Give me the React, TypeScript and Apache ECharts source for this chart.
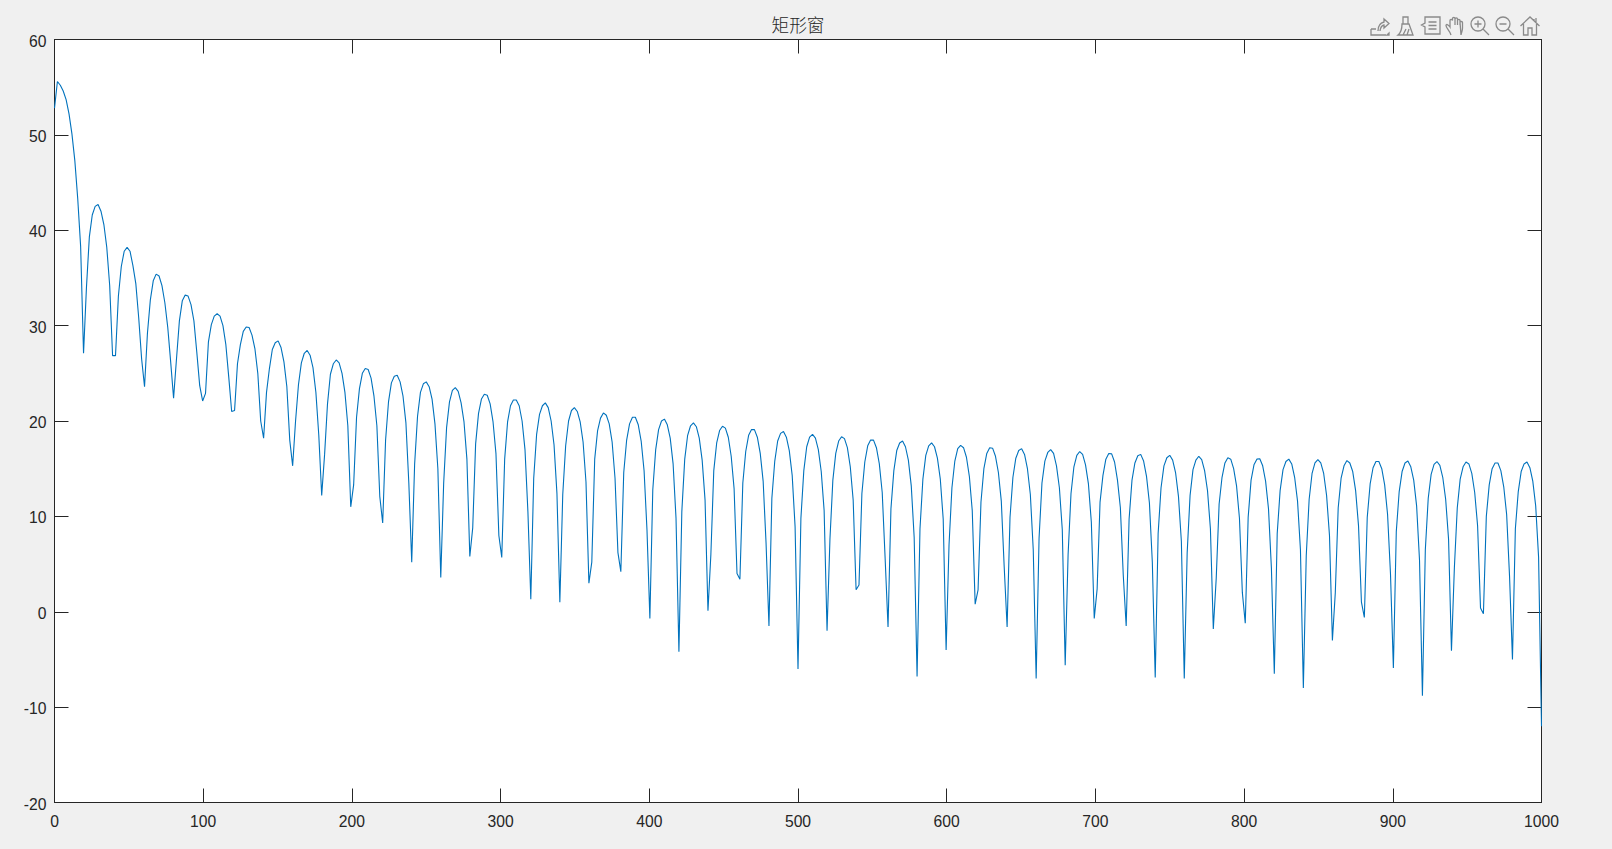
import React, { useEffect, useRef } from "react";
import * as echarts from "echarts";

const titleText = "矩形窗";
const xTicks = [0, 100, 200, 300, 400, 500, 600, 700, 800, 900, 1000];
const yTicks = [-20, -10, 0, 10, 20, 30, 40, 50, 60];
const binWidth = 1000 / 512;

const magnitudeDb = [
  52.8, 55.6, 55.2, 54.6, 53.7, 52.2, 50.1, 47.3, 43.3, 38.3, 27.1,
  34, 39.3, 41.6, 42.5, 42.7, 42, 40.6, 38.2, 34.2, 26.85,
  26.85, 33.1, 36.2, 37.8, 38.2, 37.8, 36.3, 34.4, 30.8, 26.5,
  23.6, 29.2, 32.7, 34.7, 35.4, 35.2, 34.2, 32.4, 29.8, 26.2, 22.4,
  26.5, 30.5, 32.6, 33.2, 33.1, 32.2, 30.5, 27.2, 23.7,
  22.1, 22.9,
  28.3, 30.1, 31, 31.25, 31, 30, 28, 24.6,
  21, 21.1,
  26, 28, 29.4, 29.85, 29.8, 29, 27.6, 25, 20, 18.2,
  23, 25.5, 27.5, 28.2, 28.4, 27.7, 26.2, 23.6, 18, 15.3,
  20, 23.8, 26.1, 27.1, 27.4, 26.9, 25.6, 23, 18.5, 12.2,
  16.5, 21.8, 24.9, 26, 26.4, 26.1, 25, 23, 19.5, 11, 13.3,
  20.4, 23.4, 25, 25.5, 25.4, 24.5, 22.6, 19.5, 12.1, 9.3,
  18, 22, 24, 24.7, 24.8, 24.1, 22.6, 19.8, 13.5, 5.2,
  15.5, 20.5, 23, 23.9, 24.1, 23.6, 22.3, 19.7, 15, 3.6,
  13.5, 19.3, 22, 23.2, 23.5, 23.1, 21.9, 19.9, 16, 5.8, 8.8,
  17.6, 20.8, 22.3, 22.8, 22.7, 21.8, 19.9, 16.6, 8, 5.7,
  16, 19.9, 21.6, 22.2, 22.2, 21.6, 20, 17, 10.5, 1.3,
  14, 18.6, 20.7, 21.6, 21.9, 21.4, 20, 17.5, 12.4, 1,
  12.3, 17.4, 20, 21.1, 21.4, 21, 19.9, 17.8, 13.6, 3, 5.2,
  16, 19, 20.3, 20.85, 20.6, 19.7, 17.8, 14, 6.2, 4.2,
  14.6, 18, 19.7, 20.4, 20.4, 19.6, 17.9, 14.8, 8.6, -0.7,
  12.8, 17, 19.1, 20, 20.2, 19.6, 18.2, 15.5, 9.8, -4.2,
  10.5, 16, 18.5, 19.5, 19.8, 19.4, 18.2, 15.9, 11.7, 0.1, 6,
  14.8, 17.7, 19, 19.45, 19.25, 18.3, 16.3, 12.9, 4, 3.4,
  13.5, 16.8, 18.5, 19.1, 19.1, 18.3, 16.6, 13.7, 7.2, -1.5,
  11.9, 15.8, 17.9, 18.7, 18.9, 18.3, 16.9, 14.3, 8.9, -6,
  9.8, 14.8, 17.3, 18.3, 18.6, 18.2, 17, 14.7, 10.6, -2,
  7.6, 13.8, 16.6, 17.9, 18.35, 18.15, 17.2, 15.2, 11.7, 2.3, 2.8,
  12.4, 15.7, 17.4, 18, 18, 17.2, 15.5, 12.5, 5.6, -1.6,
  10.8, 14.8, 16.9, 17.7, 17.9, 17.3, 15.9, 13.2, 7.8, -6.8,
  8.7, 13.9, 16.4, 17.4, 17.7, 17.3, 16.1, 13.9, 9.7, -4,
  7, 13, 15.8, 17.1, 17.45, 17.2, 16.2, 14.2, 10.6, 0.8, 2.3,
  11.5, 15, 16.6, 17.2, 17.15, 16.3, 14.6, 11.6, 4.7, -1.6,
  9.9, 14.1, 16.1, 16.9, 17.1, 16.5, 15, 12.3, 6.5, -7,
  7.7, 13.5, 15.8, 16.7, 17, 16.6, 15.3, 13, 8.6, -5.6,
  6, 12.4, 15.2, 16.4, 16.8, 16.5, 15.4, 13.4, 9.4, -0.7, 2.4,
  11.5, 14.3, 16, 16.6, 16.55, 15.7, 13.8, 10.9, 3.8, -1.5,
  9.7, 13.8, 15.6, 16.35, 16.5, 15.8, 14.2, 11.4, 5.2, -6.9,
  8.2, 13, 15.3, 16.15, 16.4, 15.9, 14.6, 12.1, 7.4, -7,
  6.2, 12.2, 14.9, 15.9, 16.3, 15.95, 14.8, 12.7, 8.7, -1.8, 3.5,
  11.3, 14.1, 15.6, 16.15, 16, 15, 13.2, 9.8, 2, -1.2,
  9.9, 13.8, 15.4, 16, 16.05, 15.3, 13.7, 10.8, 4.6, -6.5,
  8.2, 12.7, 14.9, 15.75, 16, 15.5, 14.1, 11.6, 6.5, -8,
  5.9, 11.8, 14.5, 15.6, 15.95, 15.6, 14.5, 12.2, 8, -3, 2,
  10.9, 14, 15.3, 15.85, 15.6, 14.7, 12.7, 9, 1, -0.6,
  9.9, 13.4, 15.1, 15.75, 15.75, 15, 13.3, 10.2, 4, -5.9,
  8.4, 12.6, 14.7, 15.6, 15.8, 15.2, 13.8, 11.1, 5.4, -8.8,
  6.5, 11.9, 14.4, 15.45, 15.75, 15.35, 14.1, 11.8, 7.6, -4.1, 4.6,
  10.9, 13.9, 15.2, 15.7, 15.5, 14.5, 12.5, 9, 0.4, -0.2,
  10, 13.3, 15, 15.6, 15.6, 14.8, 13.1, 10.2, 3.7, -5,
  8.7, 12.6, 14.7, 15.5, 15.7, 15.1, 13.7, 11.1, 5.7, -12,
];

const ICON_PATHS: Record<string, string> = {
  tbEdit:
    "M1 13V19H16M1 13H6M8 15C8 10 10 7 14 6V3L19 7.5L14 12V9C12 9.5 10.5 11 10 15M17 19L19 17V19Z",
  tbBrush:
    "M6 1H11V8H6ZM5 8H12L16 19H1C3.5 17 5 13 5 8ZM6 19L9 13M10 19L12 13",
  tbTip:
    "M4 1H19V18H4V11L0.5 9L4 7ZM7.5 6H15.5M7.5 9.5H15.5M7.5 13H15.5",
  tbHand:
    "M6 19C5 15 1 12 1 9.5C1 8 3 8 5 11V4.5C5 3 7 3 7.5 4.5V2.5C7.5 1 10 1 10 2.5V9M10 3C10 1.5 12.5 1.5 12.5 3V9M12.5 4.5C12.5 3 15 3 15 4.5V9M15 6C15 5 17.5 5 17.5 6.5V12C17.5 15 16.5 16 16 19Z",
  tbZoomIn:
    "M15 8A7 7 0 1 1 1 8A7 7 0 1 1 15 8ZM13 13L19 19M4.5 8H11.5M8 4.5V11.5",
  tbZoomOut: "M15 8A7 7 0 1 1 1 8A7 7 0 1 1 15 8ZM13 13L19 19M4.5 8H11.5",
  tbHome:
    "M0.5 10L10 1L19.5 10M3.5 8V19H8V12H12V19H16.5V8M14 3V4.5M16 2V6",
};
Object.entries(ICON_PATHS).forEach(([name, d]) => {
  echarts.graphic.registerShape(name, echarts.graphic.extendPath(d, {}));
});
const ICON_PLACES: [string, number][] = [
  ["tbEdit", 1370],
  ["tbBrush", 1397],
  ["tbTip", 1421],
  ["tbHand", 1445],
  ["tbZoomIn", 1470],
  ["tbZoomOut", 1495],
  ["tbHome", 1520],
];

const axisInk = "#262626";
const labelFont = "Arial, 'Liberation Sans', sans-serif";

export default function App() {
  const ref = useRef<HTMLDivElement>(null);
  useEffect(() => {
    document.body.style.margin = "0";
    document.body.style.background = "#f0f0f0";
    const chart = echarts.init(ref.current!, null, { renderer: "svg" });
    const xBase = {
      type: "value",
      min: xTicks[0],
      max: xTicks[xTicks.length - 1],
      interval: 100,
      splitLine: { show: false },
      axisLine: { show: true, onZero: false, lineStyle: { color: axisInk, width: 1 } },
      axisTick: { show: true, inside: true, length: 14, lineStyle: { color: axisInk, width: 1 } },
    };
    const yBase = {
      type: "value",
      min: yTicks[0],
      max: yTicks[yTicks.length - 1],
      interval: 10,
      splitLine: { show: false },
      axisLine: { show: true, onZero: false, lineStyle: { color: axisInk, width: 1 } },
      axisTick: { show: true, inside: true, length: 14, lineStyle: { color: axisInk, width: 1 } },
    };
    const labelStyle = {
      show: true,
      color: axisInk,
      fontFamily: labelFont,
      fontSize: 15.7,
    };
    chart.setOption({
      animation: false,
      backgroundColor: "#f0f0f0",
      title: {
        text: titleText,
        left: 793,
        top: 10,
        textAlign: "center",
        textStyle: {
          color: "#262626",
          fontFamily: "'Noto Sans CJK SC', sans-serif",
          fontWeight: 300,
          fontSize: 17.7,
        },
      },
      grid: {
        left: 54.5,
        top: 39.5,
        width: 1487,
        height: 763,
        backgroundColor: "#ffffff",
        show: true,
        borderWidth: 0,
      },
      xAxis: [
        {
          ...xBase,
          position: "bottom",
          axisLabel: { ...labelStyle, margin: 11, formatter: (v: number) => String(v) },
        },
        { ...xBase, position: "top", axisLabel: { show: false } },
      ],
      yAxis: [
        {
          ...yBase,
          position: "left",
          axisLabel: {
            ...labelStyle,
            margin: 8,
            formatter: (v: number) => `{shifted|${v}}`,
            rich: {
              shifted: {
                color: axisInk,
                fontFamily: labelFont,
                fontSize: 15.7,
                padding: [3, 0, 0, 0],
              },
            },
          },
        },
        { ...yBase, position: "right", axisLabel: { show: false } },
      ],
      series: [
        {
          type: "line",
          xAxisIndex: 0,
          yAxisIndex: 0,
          data: magnitudeDb.map((v, i) => [i * binWidth, v]),
          showSymbol: false,
          symbol: "none",
          clip: false,
          smooth: false,
          lineStyle: { color: "#0072BD", width: 1.1 },
        },
      ],
      graphic: ICON_PLACES.map(([type, x]) => ({
        type,
        x,
        y: 16,
        silent: true,
        style: { fill: "none", stroke: "#8a8a8a", lineWidth: 1.3 },
      })),
    });
    return () => chart.dispose();
  }, []);
  return (
    <div
      ref={ref}
      style={{ position: "fixed", left: 0, top: 0, width: 1612, height: 849 }}
    />
  );
}
